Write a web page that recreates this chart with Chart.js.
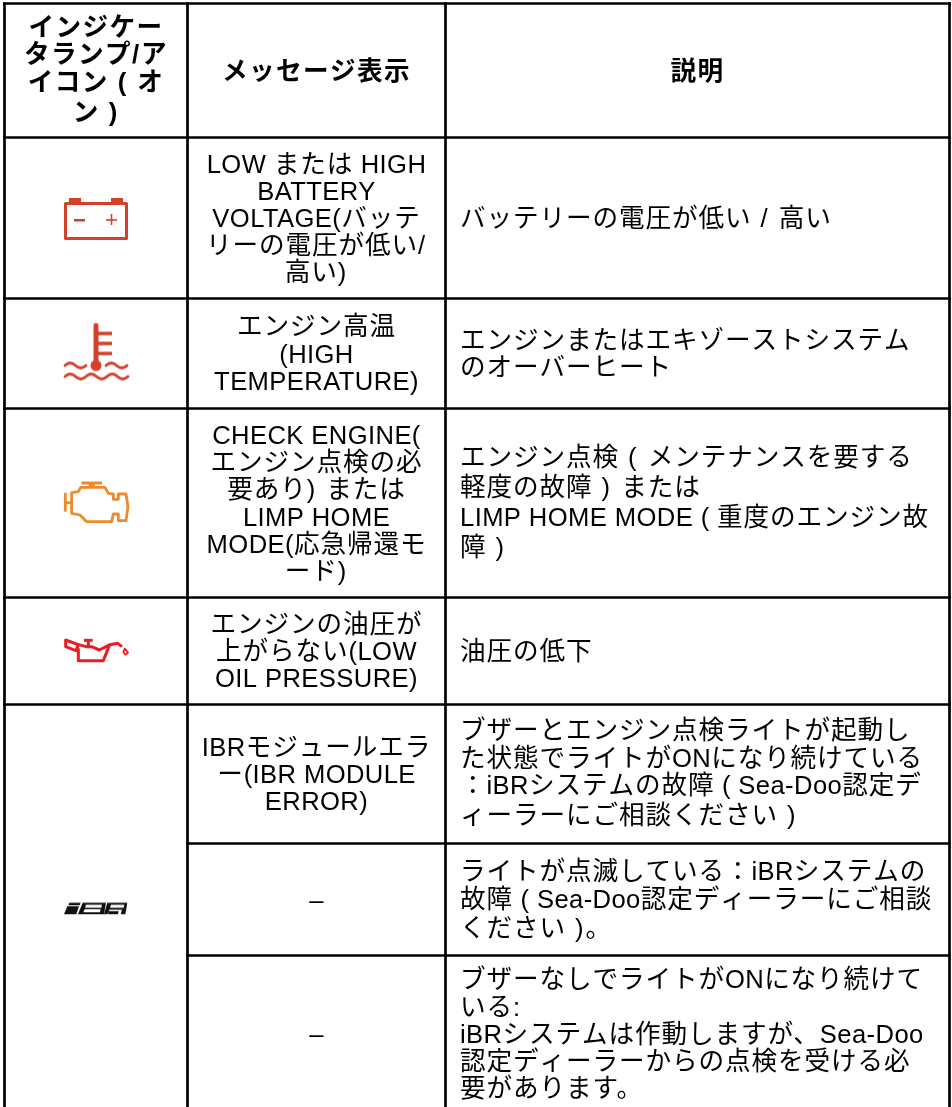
<!DOCTYPE html>
<html lang="ja">

<head>
    <meta charset="UTF-8" />
    <title>インジケータランプ</title>
    <script src="https://cdn.jsdelivr.net/npm/chart.js"></script>
    <style>
        html,
        body {
            margin: 0;
            padding: 0;
            background-color: #fff;
        }

        canvas {
            display: block;
        }
    </style>
</head>

<body>
    <canvas id="tableCanvas" width="952" height="1107"></canvas>
    <script>
        // table structure, in the picture's own units
        const columnEdges = [4.5, 187.5, 445.5, 949.5];
        const rowEdges = [3.5, 137.5, 298.5, 408.5, 597.5, 704.5, 843.5, 955.5];
        const tableBottom = 1112; // the last row is cut off by the page

        const headerLabels = [
            ["インジケー", "タランプ/ア", "イコン ( オ", "ン )"],
            ["メッセージ表示"],
            ["説明"],
        ];

        const messageLines = [
            ["LOW または HIGH", "BATTERY", "VOLTAGE(バッテ", "リーの電圧が低い/", "高い)"],
            ["エンジン高温", "(HIGH", "TEMPERATURE)"],
            ["CHECK ENGINE(", "エンジン点検の必", "要あり) または", "LIMP HOME", "MODE(応急帰還モ", "ード)"],
            ["エンジンの油圧が", "上がらない(LOW", "OIL PRESSURE)"],
            ["IBRモジュールエラ", "ー(IBR MODULE", "ERROR)"],
            ["–"],
            ["–"],
        ];

        const descriptionLines = [
            ["バッテリーの電圧が低い / 高い"],
            ["エンジンまたはエキゾーストシステム", "のオーバーヒート"],
            ["エンジン点検 ( メンテナンスを要する", "軽度の故障 ) または", "LIMP HOME MODE ( 重度のエンジン故", "障 )"],
            ["油圧の低下"],
            ["ブザーとエンジン点検ライトが起動し", "た状態でライトがONになり続けている", "：iBRシステムの故障 ( Sea-Doo認定デ", "ィーラーにご相談ください )"],
            ["ライトが点滅している：iBRシステムの", "故障 ( Sea-Doo認定ディーラーにご相談", "ください )。"],
            ["ブザーなしでライトがONになり続けて", "いる:", "iBRシステムは作動しますが、Sea-Doo", "認定ディーラーからの点検を受ける必", "要があります。"],
        ];

        // which row each icon belongs to
        const iconNames = ["battery", "temperature", "engine", "oil", "ibr"];
        const iconRowStart = [1, 2, 3, 4, 5];
        const iconRowEnd = [2, 3, 4, 5, 8];

        function iconCanvas(draw) {
            const c = document.createElement("canvas");
            c.width = 80;
            c.height = 64;
            const g = c.getContext("2d");
            g.lineJoin = "round";
            draw(g);
            return c;
        }

        function stroke(g, points, close) {
            g.beginPath();
            points.forEach((p, i) => (i ? g.lineTo(p[0], p[1]) : g.moveTo(p[0], p[1])));
            if (close) g.closePath();
            g.stroke();
        }

        function fill(g, points) {
            g.beginPath();
            points.forEach((p, i) => (i ? g.lineTo(p[0], p[1]) : g.moveTo(p[0], p[1])));
            g.closePath();
            g.fill();
        }

        function wave(g, x0, x1, y) {
            g.beginPath();
            g.moveTo(x0, y);
            const step = 10.5;
            let up = true;
            for (let x = x0; x < x1 - 1; x += step) {
                g.quadraticCurveTo(x + step / 2, y + (up ? -5 : 5), x + step, y);
                up = !up;
            }
            g.stroke();
        }

        // icons are drawn on small canvases, each used as a point style
        const iconDrawings = {
            battery: iconCanvas((g) => {
                g.fillStyle = g.strokeStyle = "#d3412b";
                g.fillRect(13, 12, 12, 5);
                g.fillRect(55, 12, 12, 5);
                g.lineWidth = 3;
                g.strokeRect(9.5, 17.5, 61, 35);
                g.fillRect(18, 33, 11, 2.5);
                g.fillRect(50, 33.2, 11, 1.6);
                g.fillRect(54.7, 28, 1.6, 11);
            }),
            temperature: iconCanvas((g) => {
                g.fillStyle = g.strokeStyle = "#d3412b";
                g.lineCap = "round";
                g.lineWidth = 5;
                stroke(g, [[40, 4], [40, 40]]);
                g.lineCap = "butt";
                g.lineWidth = 3.5;
                stroke(g, [[40, 12], [56, 12]]);
                stroke(g, [[40, 22], [56, 22]]);
                stroke(g, [[40, 32], [56, 32]]);
                g.beginPath();
                g.arc(40, 44, 5.5, 0, Math.PI * 2);
                g.fill();
                g.lineCap = "round";
                g.lineWidth = 2.8;
                wave(g, 9, 29, 44);
                wave(g, 50, 71, 44);
                wave(g, 9, 72, 55);
            }),
            engine: iconCanvas((g) => {
                g.fillStyle = g.strokeStyle = "#ee8a2b";
                g.lineWidth = 2.8;
                const x = (v) => v / 3 - 6;
                const y = (v) => v / 3 - 1;
                const pts = [[65, 68], [85, 65], [92, 52], [165, 52], [175, 70], [190, 72], [190, 88], [205, 88], [205, 72], [228, 72], [234, 110], [228, 152], [205, 152], [205, 132], [190, 132], [185, 155], [110, 155], [90, 135], [65, 130]];
                stroke(g, pts.map((p) => [x(p[0]), y(p[1])]), true);
                stroke(g, [[x(46), y(68)], [x(46), y(125)]]);
                stroke(g, [[x(46), y(98)], [x(65), y(98)]]);
                g.lineWidth = 6;
                stroke(g, [[x(125), y(42)], [x(125), y(52)]]);
                g.lineWidth = 3;
                stroke(g, [[x(94), y(39)], [x(156), y(39)]]);
            }),
            oil: iconCanvas((g) => {
                g.fillStyle = g.strokeStyle = "#ed1c24";
                g.lineWidth = 3;
                const x = (v) => v / 3 - 6;
                const y = (v) => v / 3 + 11;
                const map = (l) => l.map((p) => [x(p[0]), y(p[1])]);
                stroke(g, map([[47, 30], [85, 44], [78, 62], [47, 50]]), true);
                stroke(g, map([[85, 55], [85, 92], [160, 92], [178, 46]]));
                stroke(g, map([[85, 44], [108, 50], [125, 50], [148, 60], [180, 44], [203, 40], [216, 50]]));
                stroke(g, map([[102, 31], [128, 31]]));
                stroke(g, map([[115, 31], [115, 50]]));
                g.lineWidth = 1.8;
                stroke(g, map([[224, 56], [234, 68], [226, 74], [220, 66]]), true);
            }),
            ibr: iconCanvas((g) => {
                const x = (v) => v / 3 - 6;
                const y = (v) => v / 3 + 3.75;
                const map = (l) => l.map((p) => [x(p[0]), y(p[1])]);
                g.fillStyle = "#111";
                fill(g, map([[58, 68], [92, 68], [89, 76], [55, 76]]));
                fill(g, map([[52, 79], [87, 79], [79, 103], [42, 103]]));
                // B and R as dark blocks with light counters
                fill(g, map([[98, 68], [168, 68], [162, 103], [84, 103]]));
                fill(g, map([[172, 68], [232, 68], [226, 103], [162, 103]]));
                g.fillStyle = "#fff";
                fill(g, map([[108, 74], [156, 74], [154, 83], [105, 83]]));
                fill(g, map([[104, 88], [152, 88], [150, 97], [100, 97]]));
                fill(g, map([[183, 74], [223, 74], [221, 83], [180, 83]]));
                fill(g, map([[178, 89], [216, 89], [212, 103], [204, 103], [206, 94], [176, 94], [174, 103], [172, 103]]));
            }),
        };

        function ruleDataset(points) {
            return {
                type: "line",
                data: points,
                borderColor: "#000",
                borderWidth: 2.7,
                pointRadius: 0,
                borderCapStyle: "square",
            };
        }

        const datasets = [];

        // outer columns run to the bottom of the page, inner row rules stop at the merged icon cell
        columnEdges.forEach((x) => {
            datasets.push(ruleDataset([{ x: x, y: rowEdges[0] }, { x: x, y: tableBottom }]));
        });
        rowEdges.forEach((y, i) => {
            const start = i > 5 ? columnEdges[1] : columnEdges[0];
            datasets.push(ruleDataset([{ x: start, y: y }, { x: columnEdges[3], y: y }]));
        });

        // the icons, centred in their cells
        datasets.push({
            type: "scatter",
            data: iconNames.map((name, i) => ({
                x: (columnEdges[0] + columnEdges[1]) / 2,
                y: (rowEdges[iconRowStart[i]] + (rowEdges[iconRowEnd[i]] || tableBottom)) / 2,
            })),
            pointStyle: iconNames.map((name) => iconDrawings[name]),
            pointRadius: 20,
        });

        const fontFamily = '"Liberation Sans", "Noto Sans CJK JP", sans-serif';
        const lineHeight = 27.2;
        const tallLineHeight = 30; // lines with a spaced bracket sit in a taller box

        const cellText = {
            id: "cellText",
            afterDatasetsDraw(chart) {
                const { ctx, scales } = chart;
                const px = (v) => scales.x.getPixelForValue(v);
                const py = (v) => scales.y.getPixelForValue(v);
                let cjkSpacing = 0.9;

                function spacingFor(run) {
                    if (/^[\s()\/]+$/.test(run)) return 2;
                    return /^[\x00-\x7F–]/.test(run) ? 0.4 : cjkSpacing;
                }

                function drawLine(line, x, y, align) {
                    const runs = line.match(/[\x00-\x7F–]+|[^\x00-\x7F–]+/g);
                    const widths = runs.map((run) => {
                        ctx.letterSpacing = spacingFor(run) + "px";
                        return ctx.measureText(run).width;
                    });
                    let cursor = x;
                    if (align === "center") cursor -= widths.reduce((a, b) => a + b, 0) / 2;
                    runs.forEach((run, i) => {
                        ctx.letterSpacing = spacingFor(run) + "px";
                        ctx.fillText(run, cursor, y);
                        cursor += widths[i];
                    });
                }

                function block(lines, x, yCenter, align) {
                    const tall = (line) => /\s[()](\s|$)/.test(line);
                    const heights = lines.map((line) => (tall(line) ? tallLineHeight : lineHeight));
                    let bottom = yCenter - heights.reduce((a, b) => a + b, 0) / 2;
                    lines.forEach((line, i) => {
                        bottom += heights[i];
                        drawLine(line, x, bottom - (tall(line) ? 7 : 4.6), align);
                    });
                }

                ctx.save();
                ctx.fillStyle = "#000";
                ctx.textBaseline = "alphabetic";
                ctx.textAlign = "left";

                ctx.font = "bold 25.6px " + fontFamily;
                cjkSpacing = 1.4;
                const headerY = (rowEdges[0] + rowEdges[1]) / 2;
                headerLabels.forEach((lines, i) => {
                    block(lines, px((columnEdges[i] + columnEdges[i + 1]) / 2), py(headerY), "center");
                });

                ctx.font = "25.6px " + fontFamily;
                cjkSpacing = 0.9;
                messageLines.forEach((lines, i) => {
                    const yMid = (rowEdges[i + 1] + (rowEdges[i + 2] || tableBottom)) / 2;
                    block(lines, px((columnEdges[1] + columnEdges[2]) / 2), py(yMid), "center");
                });
                descriptionLines.forEach((lines, i) => {
                    const yMid = (rowEdges[i + 1] + (rowEdges[i + 2] || tableBottom)) / 2;
                    block(lines, px(columnEdges[2] + 14.5), py(yMid), "left");
                });
                ctx.restore();
            },
        };

        new Chart(document.getElementById("tableCanvas"), {
            data: { datasets: datasets },
            options: {
                responsive: false,
                animation: false,
                layout: { padding: 0, autoPadding: false },
                plugins: {
                    legend: { display: false },
                    tooltip: { enabled: false },
                },
                scales: {
                    x: { type: "linear", display: false, min: 0, max: 952 },
                    y: { type: "linear", display: false, min: 0, max: 1107, reverse: true },
                },
            },
            plugins: [cellText],
        });
    </script>
</body>

</html>
